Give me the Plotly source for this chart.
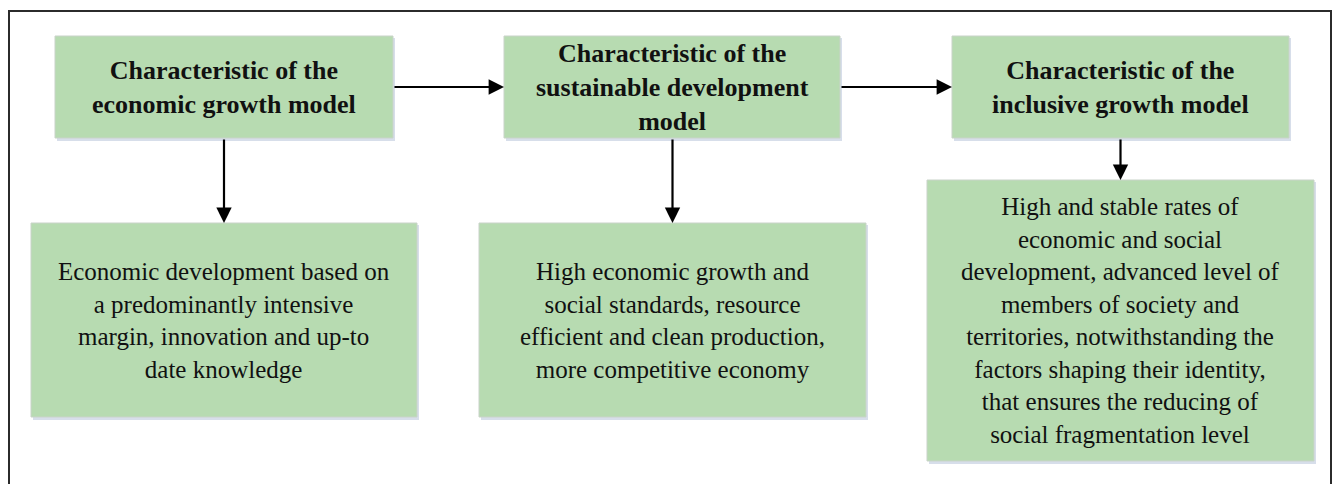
"""Flow diagram: economic growth -> sustainable development -> inclusive growth models."""

import plotly.graph_objects as go

# --- content -------------------------------------------------------------
headers = [
    "Characteristic of the<br>economic growth model",
    "Characteristic of the<br>sustainable development<br>model",
    "Characteristic of the<br>inclusive growth model",
]
details = [
    "Economic development based on<br>a predominantly intensive<br>"
    "margin, innovation and up-to<br>date knowledge",
    "High economic growth and<br>social standards, resource<br>"
    "efficient and clean production,<br>more competitive economy",
    "High and stable rates of<br>economic and social<br>"
    "development, advanced level of<br>members of society and<br>"
    "territories, notwithstanding the<br>factors shaping their identity,<br>"
    "that ensures the reducing of<br>social fragmentation level",
]

# --- layout (pixel space of the page, y grows downward) ------------------
W, H = 1340, 484
PAGE_OFFSET = 8  # default body margin of the html page
FRAME = (9, 11, 1331, H + 20)  # right edge kept inside the visible page area
HEADER_BOXES = [(55, 36, 393, 138), (504, 36, 840, 138), (952, 36, 1289, 138)]
DETAIL_BOXES = [(31, 223, 417, 417), (479, 223, 866, 417), (927, 180, 1314, 461)]

_FILL = "#b7dbb1"
_EDGE = "#c9d3c9"
_SHADOW = "rgba(140,160,195,0.35)"
_TEXT = "#111111"
_FONT = "Liberation Serif, Times New Roman, serif"

fig = go.Figure()

# outer frame (bottom edge runs off the page)
fig.add_shape(type="rect", x0=FRAME[0], y0=FRAME[1], x1=FRAME[2], y1=FRAME[3],
              line={"color": "#2b2b2b", "width": 2}, fillcolor="rgba(0,0,0,0)")


def add_box(box, text, bold):
    x0, y0, x1, y1 = box
    # soft drop shadow
    fig.add_shape(type="rect", x0=x0 + 2, y0=y0 + 2, x1=x1 + 2, y1=y1 + 3,
                  line={"width": 0}, fillcolor=_SHADOW, layer="below")
    fig.add_shape(type="rect", x0=x0, y0=y0, x1=x1, y1=y1,
                  line={"color": _EDGE, "width": 1}, fillcolor=_FILL, layer="below")
    fig.add_annotation(
        x=(x0 + x1) / 2, y=(y0 + y1) / 2,
        text=f"<b>{text}</b>" if bold else text,
        showarrow=False, align="center", xanchor="center", yanchor="middle",
        font={"family": _FONT, "size": 26 if bold else 25, "color": _TEXT},
    )


def add_arrow(x_from, y_from, x_to, y_to):
    fig.add_annotation(
        x=x_to, y=y_to, ax=x_from, ay=y_from,
        xref="x", yref="y", axref="x", ayref="y",
        text="", showarrow=True, arrowhead=2, arrowsize=1.4,
        arrowwidth=2.2, arrowcolor="#000000", standoff=0,
    )


for box, text in zip(HEADER_BOXES, headers):
    add_box(box, text, bold=True)
for box, text in zip(DETAIL_BOXES, details):
    add_box(box, text, bold=False)

# horizontal arrows between header boxes
for left, right in zip(HEADER_BOXES[:-1], HEADER_BOXES[1:]):
    y_mid = (left[1] + left[3]) / 2
    add_arrow(left[2], y_mid, right[0], y_mid)

# vertical arrows header -> detail
for top, bottom in zip(HEADER_BOXES, DETAIL_BOXES):
    x_mid = (bottom[0] + bottom[2]) / 2
    add_arrow(x_mid, top[3], x_mid, bottom[1])

fig.update_layout(
    width=W - PAGE_OFFSET, height=H - PAGE_OFFSET,
    margin={"l": 0, "r": 0, "t": 0, "b": 0},
    paper_bgcolor="white", plot_bgcolor="white",
    showlegend=False,
    xaxis={"range": [PAGE_OFFSET, W], "visible": False, "fixedrange": True},
    yaxis={"range": [H, PAGE_OFFSET], "visible": False, "fixedrange": True},
)

fig.write_html("out.html")
